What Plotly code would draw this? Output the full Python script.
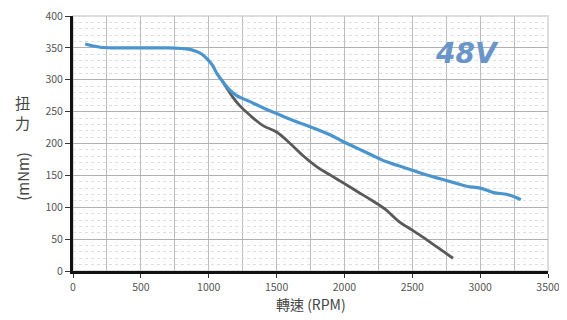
import plotly.graph_objects as go

# Blue curve (48V)
blue_rpm = [90, 150, 200, 300, 400, 500, 600, 700, 800, 850, 900, 950, 1000, 1030, 1060, 1100, 1150, 1200,
            1300, 1400, 1500, 1600, 1700, 1800, 1900, 2000, 2100, 2200, 2300, 2400, 2500,
            2600, 2700, 2800, 2900, 3000, 3100, 3200, 3300]
blue_torque = [356, 353, 351, 350, 350, 350, 350, 350, 349, 348, 345, 340, 330, 322, 310, 298, 285, 276,
               266, 256, 247, 238, 230, 222, 213, 202, 192, 182, 172, 165, 158,
               151, 145, 139, 133, 130, 123, 120, 112]

# Grey curve
grey_rpm = [1100, 1130, 1180, 1230, 1300, 1400, 1500, 1600, 1700, 1800, 1900, 2000,
            2100, 2200, 2300, 2400, 2500, 2600, 2700, 2800]
grey_torque = [298, 288, 272, 259, 245, 228, 218, 200, 180, 163, 150, 137,
               124, 111, 97, 78, 64, 50, 35, 20]

x_ticks = [0, 500, 1000, 1500, 2000, 2500, 3000, 3500]
y_ticks = [0, 50, 100, 150, 200, 250, 300, 350, 400]

fig = go.Figure()
fig.add_trace(go.Scatter(x=grey_rpm, y=grey_torque, mode="lines",
                         line=dict(color="#58595b", width=2.8, shape="spline"),
                         showlegend=False))
fig.add_trace(go.Scatter(x=blue_rpm, y=blue_torque, mode="lines",
                         line=dict(color="#4b95cf", width=3.2, shape="spline"),
                         showlegend=False))

# page body has an 8px default margin, so the figure is sized to fit the window
fig.update_layout(
    width=559, height=312,
    margin=dict(l=65, r=19, t=8, b=49, autoexpand=False),
    paper_bgcolor="white", plot_bgcolor="white",
    font=dict(family="Noto Sans CJK TC, Noto Sans, sans-serif", color="#555"),
    showlegend=False,
)
fig.update_xaxes(
    range=[0, 3500], tickvals=x_ticks, ticktext=[str(v) for v in x_ticks],
    showgrid=True, gridcolor="#bdbdbd", gridwidth=1,
    minor=dict(dtick=250, tick0=0, showgrid=True, gridcolor="#bdbdbd", gridwidth=1, ticks=""),
    showline=True, linecolor="#111", linewidth=3,
    ticks="outside", ticklen=4, tickcolor="#333", automargin=False,
    ticklabeloverflow="allow",
    tickfont=dict(size=10.5, color="#555"), zeroline=False,
)
fig.update_yaxes(
    range=[0, 400], tickvals=y_ticks, ticktext=[str(v) for v in y_ticks],
    showgrid=True, gridcolor="#b0b0b0", gridwidth=1,
    minor=dict(dtick=10, tick0=0, showgrid=True, gridcolor="#dedede", gridwidth=1, griddash="dot", ticks=""),
    showline=True, linecolor="#111", linewidth=3,
    ticks="outside", ticklen=5, tickcolor="#333", automargin=False,
    ticklabeloverflow="allow",
    tickfont=dict(size=10.5, color="#555"), zeroline=False,
)

# light frame around plot area
fig.add_shape(type="rect", xref="paper", yref="paper", x0=0, y0=0, x1=1, y1=1,
              line=dict(color="#dddddd", width=2), layer="below")

fig.add_annotation(text="<b><i>48V</i></b>", xref="paper", yref="paper", x=0.83, y=0.853,
                   showarrow=False, xanchor="center", yanchor="middle",
                   font=dict(family="DejaVu Sans, sans-serif", size=28, color="#6a95c9"))

fig.add_annotation(text="轉速 (RPM)", xref="paper", yref="paper", x=0.5, y=-0.128,
                   showarrow=False, xanchor="center", yanchor="middle",
                   font=dict(size=14, color="#444"))
fig.add_annotation(text="扭<br>力", xref="paper", yref="paper", x=-0.107, y=0.62,
                   showarrow=False, xanchor="center", yanchor="middle",
                   font=dict(size=15, color="#444"))
fig.add_annotation(text="(mNm)", xref="paper", yref="paper", x=-0.107, y=0.37,
                   showarrow=False, xanchor="center", yanchor="middle", textangle=-90,
                   font=dict(size=15, color="#444"))

fig.write_html("out.html")
